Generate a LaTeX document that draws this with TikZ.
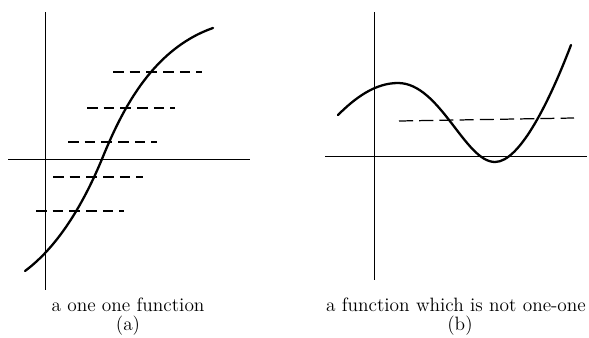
\documentclass[tikz,border=0pt]{standalone}
\begin{document}
\begin{tikzpicture}[x={(0.02cm,0)},y={(0,-0.02cm)},
    axis/.style={line width=0.4pt},
    graph/.style={line width=1.3pt,line cap=round},
    level/.style={line width=0.7pt,dash pattern=on 6pt off 3.5pt},
    caption/.style={font=\fontsize{11}{13}\selectfont}]
  \useasboundingbox (0,0) rectangle (589,338);

  % (a)
  \coordinate (aT) at (45,12);
  \coordinate (aB) at (45,290);
  \coordinate (aL) at (8,159);
  \coordinate (aR) at (250,159);
  \draw[axis] (aT) -- (aB);
  \draw[axis] (aL) -- (aR);
  \coordinate (a0) at (25,271);
  \coordinate (a1) at (102,159);
  \coordinate (a2) at (213,28);
  \draw[graph] (a0) .. controls (60,245) and (85,200) .. (a1)
    .. controls (120,115) and (150,50) .. (a2);
  \foreach \l/\r/\h in {113/202/72, 87/175/108, 68/157/142, 53/143/177, 36/124/211}
    \draw[level] (\l,\h) -- (\r,\h);
  \node[caption] (capa) at (128,305) {a one one function};
  \node[caption] (taga) at (128,326) {(a)};

  % (b)
  \coordinate (bT) at (374,12);
  \coordinate (bB) at (374,280);
  \coordinate (bL) at (325,156);
  \coordinate (bR) at (587,156);
  \draw[axis] (bT) -- (bB);
  \draw[axis] (bL) -- (bR);
  \coordinate (b0) at (338,115);
  \coordinate (bmax) at (398,83);
  \coordinate (bmin) at (495,162);
  \coordinate (b1) at (571,45);
  \draw[graph] (b0) .. controls (355,98) and (375,83) .. (bmax)
    .. controls (440,83) and (465,162) .. (bmin)
    .. controls (520,162) and (550,100) .. (b1);
  \coordinate (dL) at (399,121);
  \coordinate (dR) at (574,118);
  \draw[level,dash pattern=on 8pt off 3.5pt] (dL) -- (dR);
  \node[caption] (capb) at (456,305) {a function which is not one-one};
  \node[caption] (tagb) at (460,326) {(b)};
\end{tikzpicture}
\end{document}
